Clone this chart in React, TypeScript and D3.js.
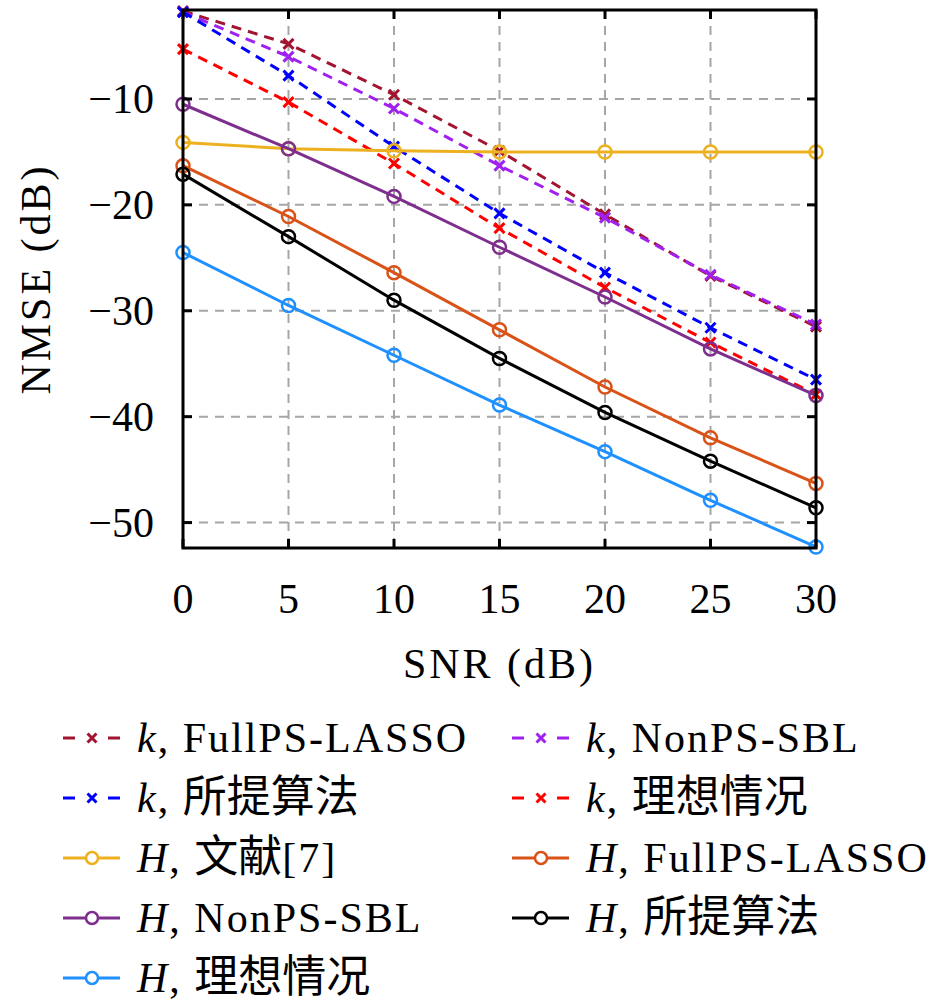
import React from 'react';
import * as d3 from 'd3';

// SNR values (dB) along the x axis
const snr = [0, 5, 10, 15, 20, 25, 30];

// NMSE (dB)
const kFullPS = [-1.7, -4.8, -9.6, -14.9, -20.9, -26.7, -31.5];
const kNonPS = [-1.8, -6.0, -10.9, -16.3, -21.2, -26.6, -31.3];
const kProposed = [-1.8, -7.8, -14.5, -20.8, -26.4, -31.6, -36.5];
const kIdeal = [-5.3, -10.3, -16.1, -22.2, -27.8, -33.0, -37.9];
const hRef7 = [-14.1, -14.7, -14.9, -15.0, -15.0, -15.0, -15.0];
const hFullPS = [-16.3, -21.1, -26.4, -31.8, -37.2, -42.0, -46.3];
const hNonPS = [-10.5, -14.7, -19.2, -24.0, -28.7, -33.6, -38.0];
const hProposed = [-17.1, -23.0, -29.0, -34.5, -39.6, -44.2, -48.6];
const hIdeal = [-24.5, -29.5, -34.2, -38.9, -43.3, -47.9, -52.3];

const xTicks = [0, 5, 10, 15, 20, 25, 30];
const yTicks = [-10, -20, -30, -40, -50];

interface Series {
  sym: string;
  name: string;
  values: number[];
  color: string;
  dashed: boolean;
}

const series: Series[] = [
  { sym: 'k', name: 'FullPS-LASSO', values: kFullPS, color: '#A2142F', dashed: true },
  { sym: 'k', name: 'NonPS-SBL', values: kNonPS, color: '#A020F0', dashed: true },
  { sym: 'k', name: '所提算法', values: kProposed, color: '#0000FF', dashed: true },
  { sym: 'k', name: '理想情况', values: kIdeal, color: '#FF0000', dashed: true },
  { sym: 'H', name: '文献[7]', values: hRef7, color: '#EDB120', dashed: false },
  { sym: 'H', name: 'FullPS-LASSO', values: hFullPS, color: '#D95319', dashed: false },
  { sym: 'H', name: 'NonPS-SBL', values: hNonPS, color: '#7E2F8E', dashed: false },
  { sym: 'H', name: '所提算法', values: hProposed, color: '#000000', dashed: false },
  { sym: 'H', name: '理想情况', values: hIdeal, color: '#1E90FF', dashed: false },
];

const W = 945;
const H = 1008;
const plot = { left: 183, right: 816, top: 10, bottom: 548 };
const serif = "'Liberation Serif', 'DejaVu Serif', serif";
const cjk = "'Noto Sans CJK SC', sans-serif";

const x = d3.scaleLinear().domain([0, 30]).range([plot.left, plot.right]);
const y = d3.scaleLinear().domain([-52.4, -1.6]).range([plot.bottom, plot.top]);

const Cross = ({ cx, cy, s, color, w }: { cx: number; cy: number; s: number; color: string; w: number }) => (
  <path
    d={`M${cx - s},${cy - s}L${cx + s},${cy + s}M${cx - s},${cy + s}L${cx + s},${cy - s}`}
    stroke={color}
    strokeWidth={w}
    fill="none"
  />
);

// split label so CJK glyphs get a CJK font
const Label = ({ s }: { s: Series }) => {
  const parts = s.name.split(/([\u4e00-\u9fff]+)/).filter((p) => p.length);
  return (
    <>
      <tspan style={{ fontStyle: 'italic' }}>{s.sym}</tspan>
      <tspan>{', '}</tspan>
      {parts.map((p, i) =>
        /[\u4e00-\u9fff]/.test(p) ? (
          <tspan key={i} style={{ fontFamily: cjk, fontSize: 44, letterSpacing: 0 }}>
            {p}
          </tspan>
        ) : (
          <tspan key={i}>{p}</tspan>
        )
      )}
    </>
  );
};

const App: React.FC = () => {
  const line = d3
    .line<number>()
    .x((_, i) => x(snr[i]))
    .y((d) => y(d));

  const legendCols = [63, 512];
  const legendRow0 = 738;
  const legendStep = 60;

  return (
    <svg
      width={W}
      height={H}
      style={{ position: 'absolute', left: 0, top: 0, background: '#fff', fontFamily: serif }}
    >
      {/* grid */}
      <g stroke="#A6A6A6" strokeWidth={2} strokeDasharray="9,7">
        {xTicks.slice(1, -1).map((t) => (
          <line key={'gx' + t} x1={x(t)} x2={x(t)} y1={plot.top} y2={plot.bottom} />
        ))}
        {yTicks.map((t) => (
          <line key={'gy' + t} x1={plot.left} x2={plot.right} y1={y(t)} y2={y(t)} />
        ))}
      </g>

      {/* series */}
      {series.map((s, si) => (
        <g key={si}>
          <path
            d={line(s.values) || ''}
            fill="none"
            stroke={s.color}
            strokeWidth={3}
            strokeDasharray={s.dashed ? '10,7' : undefined}
          />
          {s.values.map((v, i) =>
            s.dashed ? (
              <Cross key={i} cx={x(snr[i])} cy={y(v)} s={5} color={s.color} w={3} />
            ) : (
              <circle key={i} cx={x(snr[i])} cy={y(v)} r={6.5} fill="none" stroke={s.color} strokeWidth={2.5} />
            )
          )}
        </g>
      ))}

      {/* axes box and ticks */}
      <g stroke="#000" strokeWidth={3}>
        <rect
          x={plot.left}
          y={plot.top}
          width={plot.right - plot.left}
          height={plot.bottom - plot.top}
          fill="none"
        />
        {xTicks.map((t) => (
          <g key={'tx' + t}>
            <line x1={x(t)} x2={x(t)} y1={plot.bottom} y2={plot.bottom - 9} />
            <line x1={x(t)} x2={x(t)} y1={plot.top} y2={plot.top + 9} />
          </g>
        ))}
        {yTicks.map((t) => (
          <g key={'ty' + t}>
            <line x1={plot.left} x2={plot.left + 9} y1={y(t)} y2={y(t)} />
            <line x1={plot.right} x2={plot.right - 9} y1={y(t)} y2={y(t)} />
          </g>
        ))}
      </g>

      {/* tick labels */}
      <g fontSize={42} fill="#000">
        {xTicks.map((t) => (
          <text key={'lx' + t} x={x(t)} y={613} textAnchor="middle">
            {t}
          </text>
        ))}
        {yTicks.map((t) => (
          <text key={'ly' + t} x={154} y={y(t) + 14} textAnchor="end">
            {'\u2212' + Math.abs(t)}
          </text>
        ))}
      </g>

      {/* axis titles */}
      <text x={x(15)} y={678} textAnchor="middle" fontSize={42} style={{ letterSpacing: 3 }}>
        SNR (dB)
      </text>
      <text
        transform={`translate(50,${(plot.top + plot.bottom) / 2}) rotate(-90)`}
        textAnchor="middle"
        fontSize={42}
        style={{ letterSpacing: 3 }}
      >
        NMSE (dB)
      </text>

      {/* legend */}
      {series.map((s, i) => {
        const lx = legendCols[i % 2];
        const ly = legendRow0 + Math.floor(i / 2) * legendStep;
        return (
          <g key={'lg' + i}>
            <line
              x1={lx}
              x2={lx + 57}
              y1={ly}
              y2={ly}
              stroke={s.color}
              strokeWidth={3}
              strokeDasharray={s.dashed ? '12,33' : undefined}
            />
            {s.dashed ? (
              <Cross cx={lx + 29} cy={ly} s={4.5} color={s.color} w={3} />
            ) : (
              <circle cx={lx + 29} cy={ly} r={6} fill="#fff" stroke={s.color} strokeWidth={2.5} />
            )}
            <text x={lx + 74} y={ly + 14} fontSize={42} style={{ letterSpacing: 2 }}>
              <Label s={s} />
            </text>
          </g>
        );
      })}
    </svg>
  );
};

export default App;
